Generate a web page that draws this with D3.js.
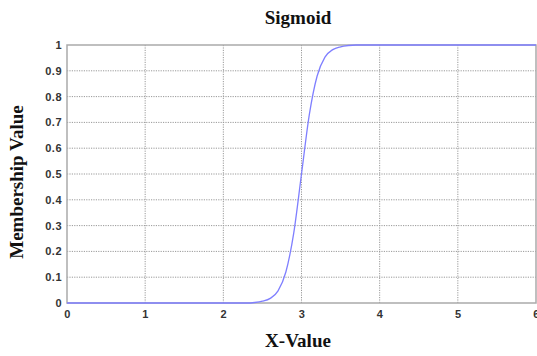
<!DOCTYPE html>
<html>
<head>
<meta charset="utf-8">
<script src="https://cdn.jsdelivr.net/npm/d3@7"></script>
<style>
  body { margin: 0; background: #fff; }
  .tick text { font-family: Arial, "Liberation Sans", sans-serif; font-size: 11px; font-weight: bold; fill: #333; letter-spacing: 0.5px; }
  .lbl { font-family: "Liberation Serif", "Times New Roman", serif; font-weight: bold; fill: #111; }
</style>
</head>
<body>
<svg id="chart" width="537" height="356"></svg>
<script>
// points
var xVals = [0, 2.3, 2.4, 2.5, 2.6, 2.7, 2.8, 2.9, 3.0, 3.1, 3.2, 3.3, 3.4, 3.5, 3.6, 3.7, 6];
var yVals = [0, 0, 0.002, 0.007, 0.018, 0.047, 0.12, 0.27, 0.5, 0.73, 0.88, 0.953, 0.982, 0.993, 0.998, 1, 1];
var xTicks = [0, 1, 2, 3, 4, 5, 6];
var yTicks = [0, 0.1, 0.2, 0.3, 0.4, 0.5, 0.6, 0.7, 0.8, 0.9, 1];

var svg = d3.select("#chart"),
    margin = {top: 45, right: 1, bottom: 53, left: 67},
    width = +svg.attr("width") - margin.left - margin.right,
    height = +svg.attr("height") - margin.top - margin.bottom,
    g = svg.append("g").attr("transform", "translate(" + margin.left + "," + margin.top + ")");

var x = d3.scaleLinear().domain([0, 6]).range([0, width]);
var y = d3.scaleLinear().domain([0, 1]).range([height, 0]);

// grid
g.append("g").selectAll("line").data(xTicks.slice(1, -1)).enter().append("line")
    .attr("x1", function(d) { return x(d); }).attr("x2", function(d) { return x(d); })
    .attr("y1", 0).attr("y2", height)
    .attr("stroke", "#999").attr("stroke-dasharray", "1.2,1.2");
g.append("g").selectAll("line").data(yTicks.slice(1, -1)).enter().append("line")
    .attr("y1", function(d) { return y(d); }).attr("y2", function(d) { return y(d); })
    .attr("x1", 0).attr("x2", width)
    .attr("stroke", "#999").attr("stroke-dasharray", "1.2,1.2");

// box
g.append("rect").attr("width", width).attr("height", height)
    .attr("fill", "none").attr("stroke", "#aaa").attr("stroke-width", 1.5);

var xAxis = g.append("g")
    .attr("transform", "translate(0," + height + ")")
    .call(d3.axisBottom(x).tickValues(xTicks).tickFormat(d3.format("d")).tickSize(0).tickPadding(7));
xAxis.select(".domain").remove();

var yAxis = g.append("g")
    .call(d3.axisLeft(y).tickValues(yTicks).tickFormat(function(d) { return d === 0 || d === 1 ? d : d.toFixed(1); }).tickSize(0).tickPadding(5));
yAxis.select(".domain").remove();

// curve
var pts = xVals.map(function(v, i) { return [v, yVals[i]]; });
g.append("path")
    .datum(pts)
    .attr("fill", "none")
    .attr("stroke", "#7f7fff")
    .attr("stroke-width", 1.3)
    .attr("d", d3.line().x(function(d) { return x(d[0]); }).y(function(d) { return y(d[1]); }).curve(d3.curveMonotoneX));

svg.append("text").attr("class", "lbl")
    .attr("x", 298).attr("y", 24)
    .attr("text-anchor", "middle").style("font-size", "19px")
    .text("Sigmoid");

svg.append("text").attr("class", "lbl")
    .attr("x", 298).attr("y", 347)
    .attr("text-anchor", "middle").style("font-size", "19px")
    .text("X-Value");

svg.append("text").attr("class", "lbl")
    .attr("transform", "translate(23,182) rotate(-90)")
    .attr("text-anchor", "middle").style("font-size", "19px")
    .text("Membership Value");
</script>
</body>
</html>
